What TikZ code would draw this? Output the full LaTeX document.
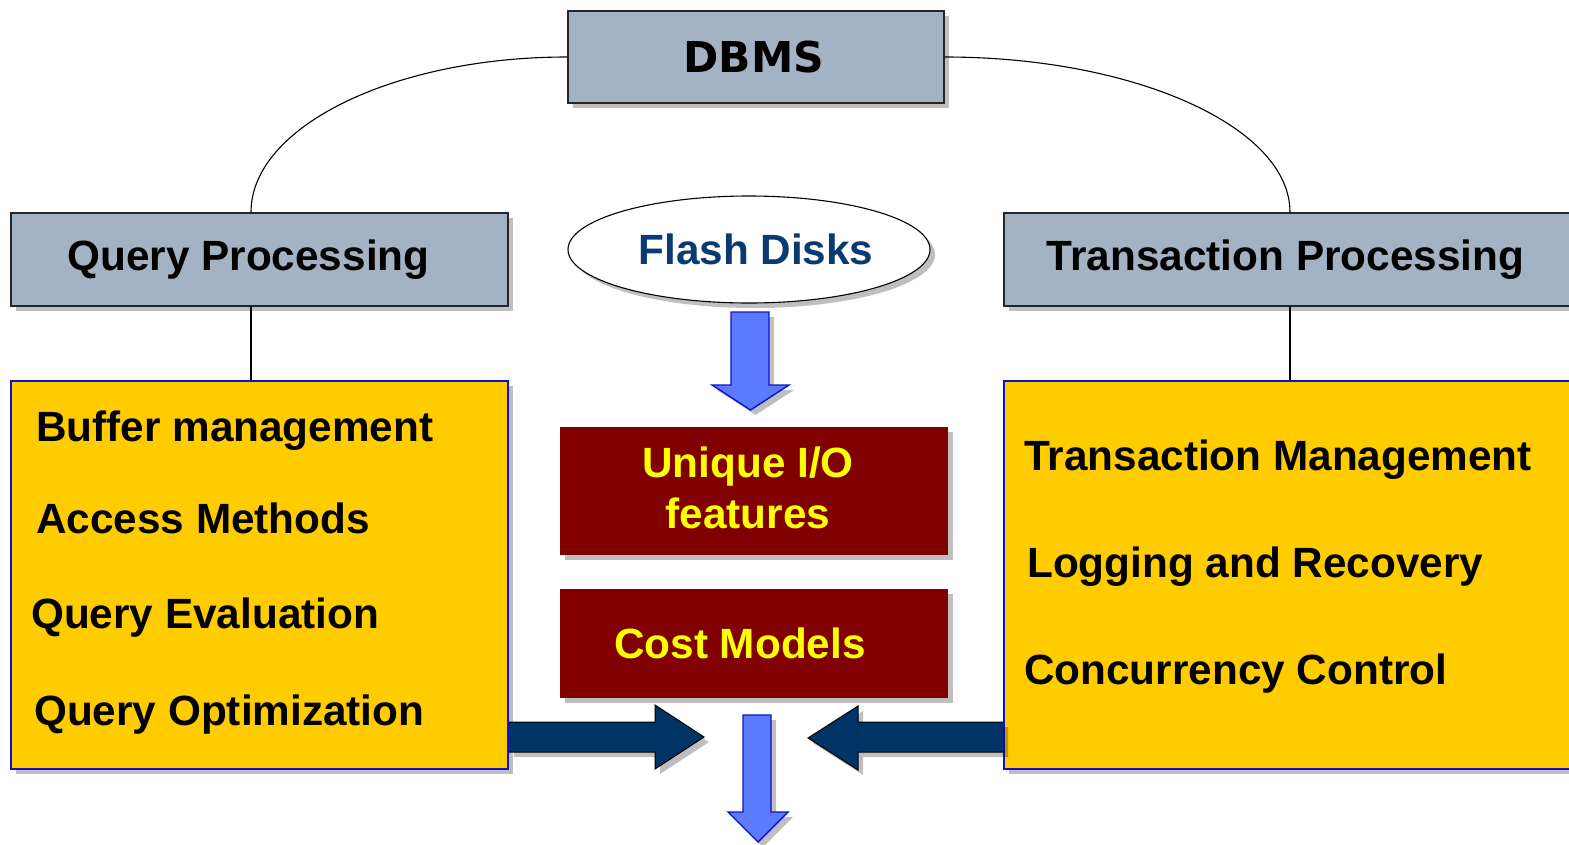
\documentclass[tikz,border=0pt]{standalone}
\usepackage{fontspec}
\setmainfont{Liberation Sans}
\newfontfamily\verdfont{DejaVu Sans}
\usetikzlibrary{shadows,shapes.geometric}
\definecolor{boxgray}{HTML}{A3B3C4}
\definecolor{boxyellow}{HTML}{FFCC00}
\definecolor{boxred}{HTML}{800000}
\definecolor{navy}{HTML}{003366}
\definecolor{lightarrow}{HTML}{5B7BFF}
\definecolor{arrowedge}{HTML}{1010CC}
\definecolor{flashtext}{HTML}{0B3A70}
\definecolor{textyellow}{HTML}{FFFF00}
\tikzset{
  shade/.style={drop shadow={shadow xshift=5pt,shadow yshift=-5pt,fill=black,opacity=0.25}},
  bigfont/.style={font=\fontsize{42.3}{51}\selectfont\bfseries},
  titlebox/.style={draw=black!85,line width=1.6pt,fill=boxgray,inner sep=0pt,shade,bigfont},
  yellowbox/.style={draw=arrowedge,line width=1.6pt,fill=boxyellow,inner sep=0pt,shade},
  redbox/.style={fill=boxred,inner sep=0pt,shade,bigfont,text=textyellow,align=center},
  item/.style={anchor=base west,inner sep=0pt,bigfont,text=black},
  link/.style={draw=black,line width=1.1pt},
  bluearrow/.style={fill=lightarrow,draw=arrowedge,line width=1.4pt,line join=miter,shade},
  navyarrow/.style={fill=navy,draw=black,line width=1pt,line join=miter,shade}
}
\begin{document}
\begin{tikzpicture}[x=1pt,y=-1pt]
\useasboundingbox (0,0) rectangle (1569,844);
\clip (0,0) rectangle (1569,844);

% boxes
\node[titlebox,minimum width=376pt,minimum height=92pt] (dbms) at (756,57) {\verdfont\bfseries\fontsize{42.5}{50}\selectfont DBMS\hspace*{4pt}};
\node[titlebox,minimum width=497pt,minimum height=93pt] (qp) at (259.5,259.5) {Query Processing\hspace*{22pt}};
\node[titlebox,minimum width=572pt,minimum height=93pt] (tp) at (1290,259.5) {Transaction Processing\hspace*{9pt}};
\node[draw=black,line width=1.1pt,fill=white,ellipse,minimum width=362pt,minimum height=107pt,inner sep=0pt,shade,bigfont,text=flashtext] (flash) at (749,249.5) {\hspace*{14pt}Flash Disks};

\node[yellowbox,minimum width=497pt,minimum height=388pt] (yl) at (259.5,575) {};
\node[yellowbox,minimum width=576pt,minimum height=388pt] (yr) at (1292,575) {};

\node[redbox,minimum width=388pt,minimum height=128pt] (uio) at (754,491) {};
\node[inner sep=0pt,bigfont,text=textyellow,align=center] (uiot) at (748,488) {Unique I/O\\features};
\node[redbox,minimum width=388pt,minimum height=109pt] (cost) at (754,643.5) {Cost Models\hspace*{28pt}};

% items
\node[item] (b1) at (36,441) {Buffer management};
\node[item] (b2) at (36,533) {Access Methods};
\node[item] (b3) at (31,628) {Query Evaluation};
\node[item] (b4) at (34,725) {Query Optimization};
\node[item] (t1) at (1024,470) {Transaction Management};
\node[item] (t2) at (1027,577) {Logging and Recovery};
\node[item] (t3) at (1024,684) {Concurrency Control};

% connectors
\coordinate (lnL) at (251,0);
\coordinate (lnR) at (1290,0);
\draw[link] (dbms.west) .. controls (393,57) and (251,127) .. (qp.north -| lnL);
\draw[link] (dbms.east) .. controls (1135,57) and (1290,127) .. (tp.north -| lnR);
\draw[link] (qp.south -| lnL) -- (yl.north -| lnL);
\draw[link] (tp.south -| lnR) -- (yr.north -| lnR);

% block arrows
\draw[bluearrow] (731,312) -- (769,312) -- (769,385) -- (789,385) -- (750.5,410) -- (712,385) -- (731,385) -- cycle;
\draw[bluearrow] (743,715) -- (771,715) -- (771,812) -- (788,812) -- (758,842) -- (728,812) -- (743,812) -- cycle;
\draw[navyarrow] (509,722) -- (655,722) -- (655,705) -- (704,737) -- (655,769) -- (655,752) -- (509,752);
\draw[navyarrow] (1003,722) -- (858,722) -- (858,706) -- (808,738) -- (858,770) -- (858,752) -- (1003,752);
\end{tikzpicture}
\end{document}
